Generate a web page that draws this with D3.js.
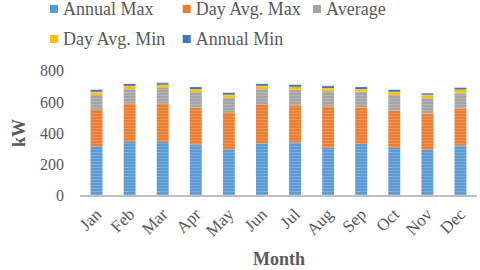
<!DOCTYPE html>
<html>
<head>
<meta charset="utf-8">
<script src="https://cdn.jsdelivr.net/npm/d3@7"></script>
<style>
    html, body { margin: 0; padding: 0; background: #fff; }
    svg { display: block; font-family: 'Liberation Serif', 'Times New Roman', serif; }
</style>
</head>
<body>
<svg id="chart" width="480" height="270"></svg>
<script>
(function () {
    'use strict';

    // chart data
    var months = ['Jan', 'Feb', 'Mar', 'Apr', 'May', 'Jun',
        'Jul', 'Aug', 'Sep', 'Oct', 'Nov', 'Dec'];
    var seriesNames = ['Annual Max', 'Day Avg. Max', 'Average', 'Day Avg. Min', 'Annual Min'];
    var annualMax = [316, 344, 344, 327, 293, 334, 340, 306, 331, 306, 293, 321];
    var dayAvgMax = [233, 244, 244, 235, 237, 247, 238, 263, 234, 237, 233, 235];
    var average = [95, 94, 101, 101, 96, 101, 98, 100, 100, 101, 98, 99];
    var dayAvgMin = [21, 21, 21, 19, 20, 21, 19, 20, 17, 21, 22, 23];
    var annualMin = [13, 13, 13, 13, 13, 13, 15, 14, 13, 13, 9, 13];
    var yTicks = [0, 200, 400, 600, 800];

    // styling
    var colors = ['#5b9bd5', '#ed7d31', '#a5a5a5', '#ffc000', '#4472c4'],
        textColor = '#595959',
        serif = "'Liberation Serif', 'Times New Roman', serif",
        plot = { left: 80, right: 477, top: 70.7, bottom: 195.5 };

    var svg = d3.select('#chart')
        .attr('font-family', serif);

    // build rows for the stack
    var seriesVals = [annualMax, dayAvgMax, average, dayAvgMin, annualMin];
    var rows = months.map(function (m, i) {
        var r = { month: m };
        seriesNames.forEach(function (s, k) {
            r[s] = seriesVals[k][i];
        });
        return r;
    });
    var stacked = d3.stack().keys(seriesNames)(rows);

    var x = d3.scaleBand()
        .domain(months)
        .range([plot.left, plot.right])
        .paddingInner(0.64)
        .paddingOuter(0.32);

    var y = d3.scaleLinear()
        .domain([0, 800])
        .range([plot.bottom, plot.top]);

    // striped fills, like the office pattern fill
    var defs = svg.append('defs');
    colors.forEach(function (c, k) {
        var p = defs.append('pattern')
            .attr('id', 'stripe' + k)
            .attr('patternUnits', 'userSpaceOnUse')
            .attr('width', 6)
            .attr('height', 3);
        p.append('rect').attr('width', 6).attr('height', 3).attr('fill', c);
        p.append('rect').attr('y', 2).attr('width', 6).attr('height', 1)
            .attr('fill', '#fff').attr('opacity', 0.18);
    });

    // bars
    svg.append('g').selectAll('g')
        .data(stacked)
        .join('g')
        .attr('fill', function (d, k) { return 'url(#stripe' + k + ')'; })
        .selectAll('rect')
        .data(function (d) { return d; })
        .join('rect')
        .attr('x', function (d) { return x(d.data.month); })
        .attr('width', x.bandwidth())
        .attr('y', function (d) { return y(d[1]); })
        .attr('height', function (d) { return y(d[0]) - y(d[1]); });

    // category axis line
    svg.append('line')
        .attr('x1', plot.left).attr('x2', plot.right)
        .attr('y1', plot.bottom + 0.5).attr('y2', plot.bottom + 0.5)
        .attr('stroke', '#bfbfbf')
        .attr('stroke-width', 2);

    // value axis labels
    var yAxis = svg.append('g')
        .attr('transform', 'translate(64,0)')
        .call(d3.axisLeft(y).tickValues(yTicks).tickSize(0).tickPadding(0))
        .attr('font-family', serif)
        .attr('font-size', 16);
    yAxis.select('.domain').remove();
    yAxis.selectAll('text')
        .attr('fill', textColor);

    // month labels
    var xAxis = svg.append('g')
        .attr('transform', 'translate(0,' + plot.bottom + ')')
        .call(d3.axisBottom(x).tickSize(0).tickPadding(0))
        .attr('font-family', serif)
        .attr('font-size', 17);
    xAxis.select('.domain').remove();
    xAxis.selectAll('text')
        .attr('fill', textColor)
        .attr('text-anchor', 'end')
        .attr('dy', null)
        .attr('y', null)
        .attr('transform', 'translate(6,20) rotate(-45)');

    // axis titles
    svg.append('text')
        .attr('transform', 'translate(25,133) rotate(-90)')
        .attr('text-anchor', 'middle')
        .attr('font-size', 18)
        .attr('font-weight', 'bold')
        .attr('fill', textColor)
        .text('kW');

    svg.append('text')
        .attr('x', 279).attr('y', 265)
        .attr('text-anchor', 'middle')
        .attr('font-size', 18)
        .attr('font-weight', 'bold')
        .attr('fill', textColor)
        .text('Month');

    // legend
    var legendX = [50, 182.7, 313],
        legendY = [15, 45];
    var legend = svg.append('g')
        .attr('font-family', serif)
        .selectAll('g')
        .data(seriesNames)
        .join('g')
        .attr('transform', function (d, i) {
            return 'translate(' + legendX[i % 3] + ',' + legendY[Math.floor(i / 3)] + ')';
        });
    legend.append('rect')
        .attr('y', -10).attr('width', 8).attr('height', 8)
        .attr('fill', function (d, i) { return colors[i]; });
    legend.append('text')
        .attr('x', 13)
        .attr('font-size', 18)
        .attr('fill', textColor)
        .text(function (d) { return d; });
}());
</script>
</body>
</html>
